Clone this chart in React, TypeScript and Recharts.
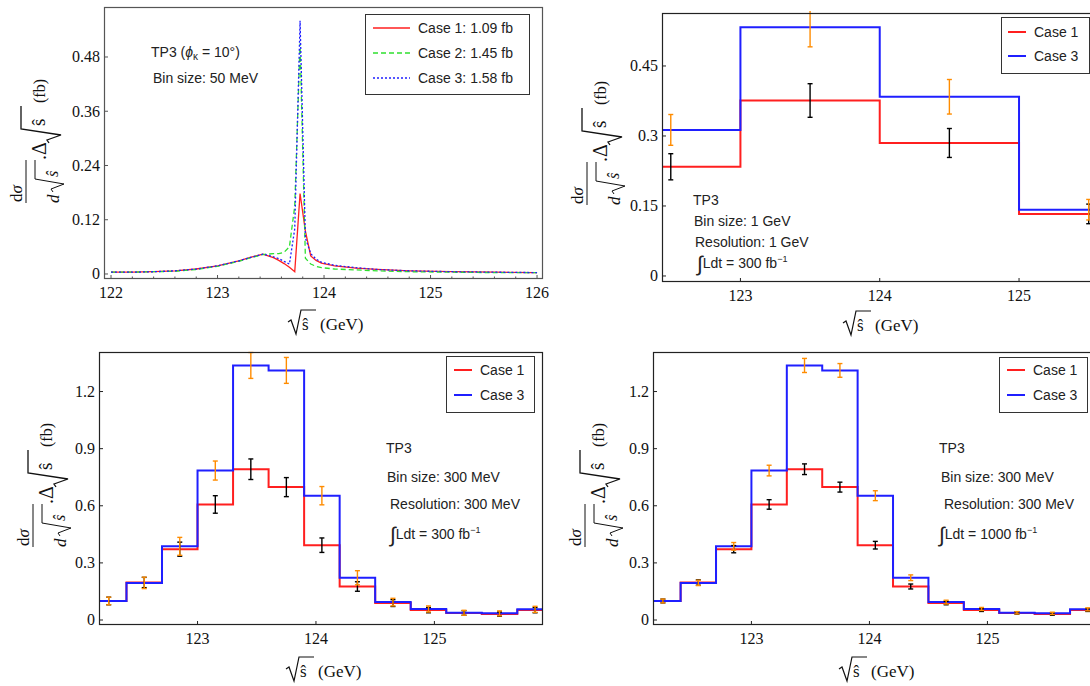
import React from "react";
import { ComposedChart, Line, Scatter, ErrorBar, XAxis, YAxis } from "recharts";

// (a) line shapes, 50 MeV bins
const fineMass = [122.0, 122.2, 122.4, 122.6, 122.8, 123.0, 123.2, 123.3, 123.425, 123.525, 123.575, 123.625, 123.675, 123.725, 123.775, 123.825, 123.875, 123.925, 123.975, 124.1, 124.3, 124.5, 124.8, 125.2, 125.6, 126.0];
const fineCase1 = [0.004, 0.004, 0.005, 0.007, 0.011, 0.018, 0.029, 0.036, 0.044, 0.036, 0.030, 0.023, 0.015, 0.005, 0.178, 0.095, 0.040, 0.030, 0.024, 0.018, 0.013, 0.010, 0.007, 0.005, 0.004, 0.003];
const fineCase2 = [0.004, 0.004, 0.005, 0.006, 0.010, 0.017, 0.028, 0.035, 0.043, 0.045, 0.045, 0.048, 0.060, 0.150, 0.510, 0.035, 0.022, 0.017, 0.014, 0.011, 0.009, 0.007, 0.005, 0.004, 0.003, 0.003];
const fineCase3 = [0.004, 0.004, 0.005, 0.007, 0.011, 0.018, 0.029, 0.036, 0.044, 0.038, 0.034, 0.028, 0.022, 0.100, 0.560, 0.080, 0.045, 0.033, 0.026, 0.019, 0.014, 0.010, 0.007, 0.005, 0.004, 0.003];

// (b) 1 GeV bins
const coarseEdges = [122, 123, 124, 125, 126];
const coarseCenters = [122.5, 123.5, 124.5, 125.5];
const coarseCase1 = [0.234, 0.376, 0.285, 0.133];
const coarseCase3 = [0.313, 0.533, 0.384, 0.142];
const coarseErr1 = [0.028, 0.036, 0.031, 0.021];
const coarseErr3 = [0.033, 0.042, 0.037, 0.022];

// (c), (d) 300 MeV bins
const binEdges = [122.1, 122.4, 122.7, 123.0, 123.3, 123.6, 123.9, 124.2, 124.5, 124.8, 125.1, 125.4, 125.7, 126.0];
const binCenters = [122.25, 122.55, 122.85, 123.15, 123.45, 123.75, 124.05, 124.35, 124.65, 124.95, 125.25, 125.55, 125.85];
const binCase1 = [0.100, 0.197, 0.372, 0.607, 0.792, 0.698, 0.393, 0.176, 0.089, 0.052, 0.037, 0.031, 0.052];
const binCase3 = [0.100, 0.195, 0.387, 0.785, 1.337, 1.311, 0.653, 0.222, 0.094, 0.058, 0.038, 0.035, 0.056];
const err1Lumi300 = [0.020, 0.027, 0.037, 0.046, 0.054, 0.050, 0.038, 0.025, 0.018, 0.014, 0.012, 0.011, 0.014];
const err3Lumi300 = [0.020, 0.030, 0.047, 0.050, 0.068, 0.068, 0.048, 0.037, 0.020, 0.016, 0.013, 0.013, 0.016];
const err1Lumi1000 = [0.010, 0.014, 0.019, 0.025, 0.028, 0.026, 0.020, 0.013, 0.009, 0.007, 0.006, 0.006, 0.007];
const err3Lumi1000 = [0.010, 0.014, 0.020, 0.028, 0.037, 0.036, 0.026, 0.015, 0.010, 0.008, 0.006, 0.006, 0.008];

const xMajor = [122, 123, 124, 125, 126];
const xMinorA = [122.2, 122.4, 122.6, 122.8, 123.2, 123.4, 123.6, 123.8, 124.2, 124.4, 124.6, 124.8, 125.2, 125.4, 125.6, 125.8];
const yTicksA = [0, 0.12, 0.24, 0.36, 0.48];
const yTicksB = [0, 0.15, 0.3, 0.45];
const yTicksC = [0, 0.3, 0.6, 0.9, 1.2];

const RED = "#ff1f1f";
const BLUE = "#1f1fff";
const GREEN = "#2fe02f";
const ORANGE = "#ff8c00";
const SERIF = "'Liberation Serif', 'DejaVu Serif', serif";
const SANS = "'Liberation Sans', Arial, sans-serif";

const lineRows = fineMass.map((x, i) => ({ x, c1: fineCase1[i], c2: fineCase2[i], c3: fineCase3[i] }));
const stepRows = (edges: number[], a: number[], b: number[]) =>
  edges.map((x, i) => {
    const k = Math.min(i, a.length - 1);
    return { x, c1: a[k], c3: b[k] };
  });
const errRows = (centers: number[], vals: number[], errs: number[]) =>
  centers.map((x, i) => ({ x, y: vals[i], e: errs[i] }));

type Box = { l: number; t: number; r: number; b: number };
const boxA: Box = { l: 104, t: 7, r: 543, b: 279 };
const boxB: Box = { l: 662, t: 13, r: 1110, b: 282 };
const boxC: Box = { l: 99, t: 352, r: 543, b: 625 };
const boxD: Box = { l: 653, t: 352, r: 1096, b: 625 };

const YW = 60;
const XH = 40;
const PAD = 2;
const RPAD = 24;

const hidden = () => <g />;

function Plot({ box, xDomain, yDomain, xTicks, labelled, yTicks, tickColor, data, children }: any) {
  const w = box.r - box.l;
  const h = box.b - box.t;
  const xTick = (p: any) => {
    const v = p.payload.value;
    const major = labelled.includes(v);
    return (
      <g>
        <line x1={p.x} x2={p.x} y1={p.y} y2={p.y - (major ? 4 : 2.5)} stroke={tickColor} />
        {major && (
          <text x={p.x} y={p.y + 19} textAnchor="middle" fontFamily={SERIF} fontSize={16} fill="#111">
            {v}
          </text>
        )}
      </g>
    );
  };
  const yTick = (p: any) => (
    <g>
      <line x1={p.x} x2={p.x + 4} y1={p.y} y2={p.y} stroke={tickColor} />
      <text x={p.x - 4} y={p.y} dy="0.33em" textAnchor="end" fontFamily={SERIF} fontSize={16} fill="#111">
        {p.payload.value}
      </text>
    </g>
  );
  return (
    <div style={{ position: "absolute", left: box.l - YW, top: box.t - PAD }}>
      <ComposedChart width={YW + w + RPAD} height={PAD + h + XH} data={data} margin={{ top: PAD, right: RPAD, bottom: 0, left: 0 }}>
        <XAxis type="number" dataKey="x" domain={xDomain} allowDataOverflow ticks={xTicks} interval={0} height={XH}
          axisLine={false} tickLine={false} tickSize={0} tickMargin={0} tick={xTick} />
        <YAxis type="number" domain={yDomain} allowDataOverflow ticks={yTicks} interval={0} width={YW}
          axisLine={false} tickLine={false} tickSize={0} tickMargin={0} tick={yTick} />
        {children}
      </ComposedChart>
    </div>
  );
}

function histSeries(rows: any[], err1: any[], err3: any[]) {
  return [
    <Line key="r" dataKey="c1" data={rows} type="stepAfter" stroke={RED} strokeWidth={2} dot={false} activeDot={false} isAnimationActive={false} />,
    <Line key="b" dataKey="c3" data={rows} type="stepAfter" stroke={BLUE} strokeWidth={2} dot={false} activeDot={false} isAnimationActive={false} />,
    <Scatter key="e1" data={err1} dataKey="y" shape={hidden} isAnimationActive={false}>
      <ErrorBar dataKey="e" direction="y" width={2.5} stroke="#000" strokeWidth={1.4} />
    </Scatter>,
    <Scatter key="e3" data={err3} dataKey="y" shape={hidden} isAnimationActive={false}>
      <ErrorBar dataKey="e" direction="y" width={2.5} stroke={ORANGE} strokeWidth={1.4} />
    </Scatter>,
  ];
}

function YTitle({ bx, by }: { bx: number; by: number }) {
  return (
    <g transform={`translate(${bx},${by}) rotate(-90)`} fill="#111" fontFamily={SERIF}>
      <text x={1} y={-4} fontSize={17}>d<tspan fontStyle="italic">σ</tspan></text>
      <line x1={0} x2={43} y1={0} y2={0} stroke="#111" strokeWidth={1} />
      <text x={0} y={33} fontSize={17} fontStyle="italic">d</text>
      <path d="M11 27 L14 25 L19 38 L24 9 L43 9" fill="none" stroke="#111" strokeWidth={1} />
      <text x={26} y={32} fontSize={16} fontStyle="italic">ŝ</text>
      <text x={43} y={20} fontSize={20}>.Δ</text>
      <path d="M60 23 L63 21 L68 35 L74 -5 L97 -5" fill="none" stroke="#111" strokeWidth={1.3} />
      <text x={77} y={19} fontSize={19}>ŝ</text>
      <text x={100} y={19} fontSize={16}>(fb)</text>
    </g>
  );
}

function XTitle({ x, base }: { x: number; base: number }) {
  return (
    <g fill="#111" fontFamily={SERIF}>
      <path d={`M${x} ${base - 8} L${x + 3} ${base - 10} L${x + 8} ${base + 4} L${x + 13} ${base - 20} L${x + 28} ${base - 20}`}
        fill="none" stroke="#111" strokeWidth={1.2} />
      <text x={x + 14} y={base} fontSize={17}>ŝ</text>
      <text x={x + 32} y={base} fontSize={17}>(GeV)</text>
    </g>
  );
}

function LegendBox({ x, y, w, h, sx, sl, tx, rows, items }: any) {
  return (
    <g fontFamily={SANS} fontSize={14} fill="#222">
      <rect x={x + 0.5} y={y + 0.5} width={w} height={h} fill="#fff" stroke="#333" strokeWidth={1} />
      {items.map((it: any, i: number) => (
        <g key={i}>
          <line x1={sx} x2={sx + sl} y1={rows[i]} y2={rows[i]} stroke={it.color} strokeWidth={it.width} strokeDasharray={it.dash} />
          <text x={tx} y={rows[i] + 5}>{it.label}</text>
        </g>
      ))}
    </g>
  );
}

function Lumi({ x, y, value }: { x: number; y: number; value: string }) {
  return (
    <text x={x} y={y} fontFamily={SANS} fontSize={14} fill="#222">
      <tspan fontSize={21} dy={3}>∫</tspan>
      <tspan dy={-3}>Ldt = {value} fb</tspan>
      <tspan fontSize={9} dy={-6}>−1</tspan>
    </text>
  );
}

function Frame({ box, color }: { box: Box; color: string }) {
  return <rect x={box.l + 0.5} y={box.t + 0.5} width={box.r - box.l - 1} height={box.b - box.t - 1} fill="none" stroke={color} strokeWidth={1.2} />;
}

const histLegend = [
  { label: "Case 1", color: RED, width: 2 },
  { label: "Case 3", color: BLUE, width: 2 },
];

export default function App() {
  return (
    <div style={{ position: "fixed", left: 0, top: 0, width: 1090, height: 686, overflow: "hidden", background: "#fff" }}>
      <Plot box={boxA} xDomain={[121.934, 126.056]} yDomain={[-0.0111, 0.5906]} xTicks={[...xMajor, ...xMinorA]} labelled={xMajor}
        yTicks={yTicksA} tickColor="#555" data={lineRows}>
        <Line dataKey="c1" type="linear" stroke={RED} strokeWidth={1.3} dot={false} activeDot={false} isAnimationActive={false} />
        <Line dataKey="c2" type="linear" stroke={GREEN} strokeWidth={1.3} strokeDasharray="5 3" dot={false} activeDot={false} isAnimationActive={false} />
        <Line dataKey="c3" type="linear" stroke={BLUE} strokeWidth={1.3} strokeDasharray="2 2" dot={false} activeDot={false} isAnimationActive={false} />
      </Plot>

      <Plot box={boxB} xDomain={[122.437, 125.653]} yDomain={[-0.0129, 0.5635]} xTicks={[123, 124, 125]} labelled={xMajor}
        yTicks={yTicksB} tickColor="#222" data={stepRows(coarseEdges, coarseCase1, coarseCase3)}>
        {histSeries(stepRows(coarseEdges, coarseCase1, coarseCase3),
          errRows(coarseCenters, coarseCase1, coarseErr1), errRows(coarseCenters, coarseCase3, coarseErr3))}
      </Plot>

      <Plot box={boxC} xDomain={[122.168, 125.917]} yDomain={[-0.0262, 1.4077]} xTicks={[123, 124, 125]} labelled={xMajor}
        yTicks={yTicksC} tickColor="#222" data={stepRows(binEdges, binCase1, binCase3)}>
        {histSeries(stepRows(binEdges, binCase1, binCase3),
          errRows(binCenters, binCase1, err1Lumi300), errRows(binCenters, binCase3, err3Lumi300))}
      </Plot>

      <Plot box={boxD} xDomain={[122.166, 125.92]} yDomain={[-0.0262, 1.4077]} xTicks={[123, 124, 125]} labelled={xMajor}
        yTicks={yTicksC} tickColor="#222" data={stepRows(binEdges, binCase1, binCase3)}>
        {histSeries(stepRows(binEdges, binCase1, binCase3),
          errRows(binCenters, binCase1, err1Lumi1000), errRows(binCenters, binCase3, err3Lumi1000))}
      </Plot>

      <svg width={1090} height={686} style={{ position: "absolute", left: 0, top: 0, pointerEvents: "none" }}>
        <Frame box={boxA} color="#555" />
        <Frame box={boxB} color="#222" />
        <Frame box={boxC} color="#222" />
        <Frame box={boxD} color="#222" />

        <YTitle bx={26} by={203} />
        <YTitle bx={587} by={205} />
        <YTitle bx={33} by={547} />
        <YTitle bx={585} by={547} />

        <XTitle x={288} base={330} />
        <XTitle x={843} base={331} />
        <XTitle x={286} base={677} />
        <XTitle x={839} base={677} />

        <LegendBox x={365} y={14} w={164} h={80} sx={373} sl={37} tx={418} rows={[28, 53, 78]}
          items={[
            { label: "Case 1: 1.09 fb", color: RED, width: 1.3 },
            { label: "Case 2: 1.45 fb", color: GREEN, width: 1.3, dash: "5 3" },
            { label: "Case 3: 1.58 fb", color: BLUE, width: 1.3, dash: "2 2" },
          ]} />
        <LegendBox x={1001} y={17} w={88} h={56} sx={1008} sl={18} tx={1034} rows={[32, 56]} items={histLegend} />
        <LegendBox x={446} y={356} w={88} h={56} sx={454} sl={18} tx={480} rows={[370, 395]} items={histLegend} />
        <LegendBox x={999} y={357} w={88} h={55} sx={1007} sl={18} tx={1033} rows={[370, 395]} items={histLegend} />

        <g fontFamily={SANS} fontSize={14} fill="#222">
          <text x={151} y={57}>
            TP3 (<tspan fontStyle="italic">ϕ</tspan><tspan fontSize={10} dy={3}>κ</tspan><tspan dy={-3}> = 10°)</tspan>
          </text>
          <text x={153} y={83}>Bin size: 50 MeV</text>

          <text x={693} y={205}>TP3</text>
          <text x={694} y={226}>Bin size: 1 GeV</text>
          <text x={695} y={247}>Resolution: 1 GeV</text>

          <text x={386} y={453}>TP3</text>
          <text x={387} y={482}>Bin size: 300 MeV</text>
          <text x={390} y={509}>Resolution: 300 MeV</text>

          <text x={939} y={453}>TP3</text>
          <text x={941} y={482}>Bin size: 300 MeV</text>
          <text x={944} y={509}>Resolution: 300 MeV</text>
        </g>
        <Lumi x={697} y={268} value="300" />
        <Lumi x={390} y={539} value="300" />
        <Lumi x={939} y={539} value="1000" />
      </svg>
    </div>
  );
}
